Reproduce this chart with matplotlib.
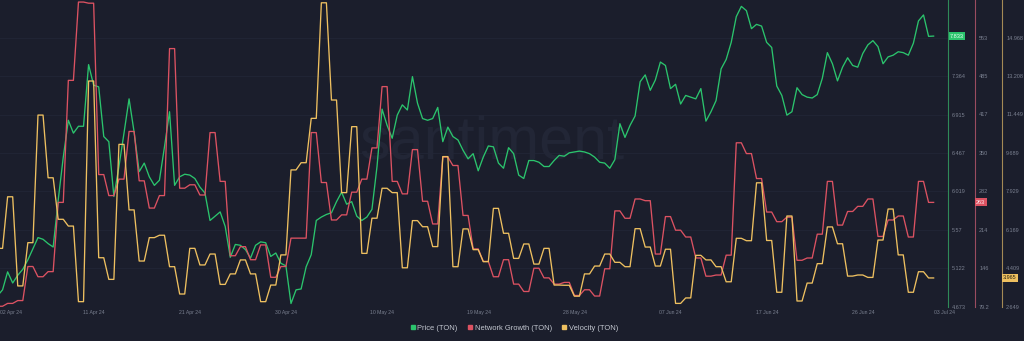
import numpy as np
import pandas as pd
import matplotlib
matplotlib.use("Agg")
import matplotlib.pyplot as plt
from matplotlib.lines import Line2D

plt.rcParams["font.family"] = ["Liberation Sans", "DejaVu Sans"]

# Price (TON), one value every 12 hours from 02 Apr 2024 00:00
price = [
    4.80, 4.87, 5.08, 4.95, 5.04, 5.11, 5.22, 5.35, 5.48, 5.46,
    5.41, 5.37, 5.92, 6.42, 6.85, 6.70, 6.78, 6.78, 7.50, 7.26,
    7.24, 6.66, 6.60, 5.96, 6.31, 6.70, 7.10, 6.71, 6.25, 6.35,
    6.19, 6.09, 6.15, 6.54, 6.95, 6.09, 6.19, 6.22, 6.21, 6.17,
    6.07, 6.00, 5.68, 5.73, 5.78, 5.61, 5.25, 5.40, 5.39, 5.34,
    5.24, 5.39, 5.43, 5.42, 5.26, 5.30, 5.18, 5.15, 4.71, 4.87,
    4.88, 5.14, 5.28, 5.68, 5.72, 5.75, 5.77, 5.90, 6.01, 5.87,
    5.90, 5.73, 5.68, 5.72, 5.81, 6.31, 6.98, 6.79, 6.64, 6.91,
    7.03, 6.97, 7.36, 7.05, 6.87, 6.85, 6.87, 7.00, 6.60, 6.77,
    6.66, 6.62, 6.50, 6.40, 6.46, 6.26, 6.42, 6.55, 6.54, 6.35,
    6.29, 6.53, 6.46, 6.21, 6.17, 6.38, 6.38, 6.36, 6.31, 6.31,
    6.38, 6.44, 6.43, 6.47, 6.48, 6.49, 6.48, 6.46, 6.42, 6.36,
    6.35, 6.29, 6.39, 6.81, 6.65, 6.79, 6.90, 7.30, 7.38, 7.20,
    7.32, 7.53, 7.49, 7.22, 7.27, 7.04, 7.14, 7.12, 7.10, 7.22,
    6.84, 6.95, 7.08, 7.45, 7.56, 7.76, 8.06, 8.18, 8.13, 7.92,
    7.97, 7.95, 7.76, 7.70, 7.25, 7.14, 6.91, 6.95, 7.23, 7.15,
    7.12, 7.11, 7.15, 7.34, 7.64, 7.51, 7.31, 7.47, 7.58, 7.49,
    7.47, 7.63, 7.73, 7.78, 7.71, 7.51, 7.59, 7.61, 7.65, 7.64,
    7.61, 7.75, 8.01, 8.08, 7.83, 7.833,
]

# Daily Network Growth (TON) from 02 Apr 2024
network_growth = [
    80, 85, 90, 150, 132, 141, 263, 478, 616, 614,
    312, 275, 304, 388, 301, 253, 275, 534, 288, 294,
    276, 386, 300, 169, 185, 162, 188, 131, 150, 200,
    200, 386, 298, 232, 241, 281, 304, 359, 467, 300,
    278, 356, 265, 225, 343, 328, 240, 181, 159, 132,
    162, 119, 106, 147, 130, 119, 122, 99, 109, 98,
    146, 248, 235, 269, 266, 172, 238, 214, 202, 165,
    133, 135, 170, 368, 349, 305, 246, 229, 237, 161,
    165, 207, 300, 223, 247, 256, 269, 203, 232, 239,
    202, 300, 263,
]

# Daily Velocity (TON) from 02 Apr 2024
velocity = [
    5.32, 7.68, 3.60, 5.58, 11.42, 8.55, 6.65, 6.34, 2.88, 12.98,
    4.89, 3.90, 10.08, 7.08, 4.74, 5.81, 5.92, 4.48, 3.23, 5.32,
    4.56, 5.06, 3.67, 4.15, 4.79, 4.15, 2.88, 3.64, 5.02, 8.91,
    9.24, 11.27, 16.56, 12.11, 7.87, 10.89, 5.09, 6.70, 8.07, 7.87,
    4.43, 6.59, 6.31, 5.40, 9.52, 4.48, 6.21, 5.26, 4.71, 7.15,
    6.01, 4.86, 5.52, 4.60, 5.32, 3.64, 3.63, 3.13, 4.15, 4.51,
    5.06, 4.68, 4.48, 6.22, 5.38, 4.51, 5.28, 2.80, 3.05, 5.00,
    4.79, 4.48, 3.79, 5.78, 5.67, 8.32, 5.68, 3.31, 6.80, 2.91,
    3.73, 4.62, 6.30, 5.53, 4.05, 4.10, 3.99, 5.70, 7.12, 5.02,
    3.31, 4.25, 3.965,
]

series_names = ["Price (TON)", "Network Growth (TON)", "Velocity (TON)"]

price_ticks = [4.673, 5.122, 5.570, 6.019, 6.467, 6.915, 7.364, 7.812]
# the top price label sits underneath the last-price badge
price_tick_labels = ["4.673", "5.122", "5.57", "6.019", "6.467", "6.915", "7.364", ""]
growth_ticks = [79.2, 146.95, 214.7, 282.45, 350.2, 417.95, 485.7, 553.45]
growth_tick_labels = ["79.2", "146", "214", "282", "350", "417", "485", "553"]
velocity_ticks = [2.649, 4.409, 6.169, 7.929, 9.689, 11.449, 13.208, 14.968]
velocity_tick_labels = ["2.649", "4.409", "6.169", "7.929", "9.689", "11.449",
                        "13.208", "14.968"]

date_labels = ["02 Apr 24", "11 Apr 24", "21 Apr 24", "30 Apr 24", "10 May 24",
               "19 May 24", "28 May 24", "07 Jun 24", "17 Jun 24", "26 Jun 24",
               "03 Jul 24"]

# ---- styling ----
BG = "#1b1e2c"
GREEN = "#2bc46d"
RED = "#dc5262"
YELLOW = "#eec060"
TICK_COLOR = "#7a8090"
W, H = 1024, 341
PLOT_W, PLOT_H = 948, 306.7          # plot area in pixels (top-left anchored)
ROWS_PER_TICK = PLOT_H / 38.45        # tick spacing -> visible range

start = pd.Timestamp("2024-04-02")
price_time = pd.date_range(start, periods=len(price), freq="12h")


def half_day_hold(values):
    """Daily values drawn as a plateau lasting half a day, then a ramp."""
    days = pd.date_range(start, periods=len(values), freq="D")
    t = np.empty(2 * len(days), dtype="datetime64[ns]")
    t[0::2] = days.values
    t[1::2] = (days + pd.Timedelta(hours=12)).values
    return t, np.repeat(np.asarray(values, dtype=float), 2)


fig = plt.figure(figsize=(W / 100, H / 100), dpi=100, facecolor=BG)
ax = fig.add_axes([0, 1 - PLOT_H / H, PLOT_W / W, PLOT_H / H])
ax.set_facecolor(BG)
axn = ax.twinx()
axv = ax.twinx()

# watermark
ax.text(0.519, 0.534, "santiment", transform=ax.transAxes, ha="center", va="center",
        fontsize=44, color="#222636", zorder=0)

ax.plot(price_time, price, color=GREEN, lw=0.95, zorder=3)
tn, vn = half_day_hold(network_growth)
axn.plot(tn, vn, color=RED, lw=0.95)
tv, vv = half_day_hold(velocity)
axv.plot(tv, vv, color=YELLOW, lw=0.95)


def span(ticks):
    step = ticks[1] - ticks[0]
    return ticks[0], ticks[0] + step * ROWS_PER_TICK


ax.set_ylim(*span(price_ticks))
axn.set_ylim(*span(growth_ticks))
axv.set_ylim(*span(velocity_ticks))

x_left = start + pd.Timedelta(days=0.247)
x_right = start + pd.Timedelta(days=93.92)
ax.set_xlim(x_left, x_right)

# x ticks: first label pinned to the left edge, the rest evenly spaced
first_tick = pd.Timestamp("2024-04-11 13:00")
tick_pos = [x_left] + [first_tick + pd.Timedelta(days=9.497 * n) for n in range(9)] \
    + [start + pd.Timedelta(days=93.53)]
ax.set_xticks(tick_pos, labels=date_labels)
ax.tick_params(axis="x", length=0, pad=2.2, labelsize=3.7, labelcolor=TICK_COLOR)
ax.get_xticklabels()[0].set_horizontalalignment("left")

for a in (ax, axn, axv):
    for s in ("top", "left", "bottom"):
        a.spines[s].set_visible(False)

ax.yaxis.tick_right()
ax.set_yticks(price_ticks, labels=price_tick_labels)
axn.set_yticks(growth_ticks, labels=growth_tick_labels)
axv.set_yticks(velocity_ticks, labels=velocity_tick_labels)

spine_x = {ax: 1.0, axn: 975 / PLOT_W, axv: 1002 / PLOT_W}
spine_col = {ax: "#2f8a58", axn: "#9a4c60", axv: "#a48a55"}
for a in (ax, axn, axv):
    a.spines["right"].set_position(("axes", spine_x[a]))
    a.spines["right"].set_color(spine_col[a])
    a.spines["right"].set_linewidth(0.8)
    a.tick_params(axis="y", length=0, pad=3.0, labelsize=4.0, labelcolor=TICK_COLOR)

ax.grid(axis="y", color="#222636", linewidth=0.6, zorder=0)

# last-value badges on each scale
badge = dict(boxstyle="square,pad=0.25", ec="none")
ax.text(1.002, price[-1], f"{price[-1]:.3f}", transform=ax.get_yaxis_transform(),
        ha="left", va="center", fontsize=4.0, color="#eafff1",
        bbox=dict(badge, fc=GREEN), clip_on=False, zorder=5)
axn.text(976 / PLOT_W, network_growth[-1], f"{network_growth[-1]:.0f}",
         transform=axn.get_yaxis_transform(), ha="left", va="center", fontsize=4.0,
         color="#fff0f2", bbox=dict(badge, fc=RED), clip_on=False, zorder=5)
axv.text(1003 / PLOT_W, velocity[-1], f"{velocity[-1]:.3f}",
         transform=axv.get_yaxis_transform(), ha="left", va="center", fontsize=4.0,
         color="#2a2410", bbox=dict(badge, fc=YELLOW), clip_on=False, zorder=5)

handles = [Line2D([], [], marker="s", linestyle="none", markersize=3.3,
                  markerfacecolor=c, markeredgecolor=c) for c in (GREEN, RED, YELLOW)]
fig.legend(handles, series_names, loc="center", bbox_to_anchor=(0.502, 0.038),
           ncol=3, frameon=False, fontsize=5.4, labelcolor="#c3c7d0",
           handletextpad=0.15, columnspacing=1.3, handlelength=0.8,
           borderaxespad=0)

fig.savefig("out.png", dpi=100, facecolor=BG)
